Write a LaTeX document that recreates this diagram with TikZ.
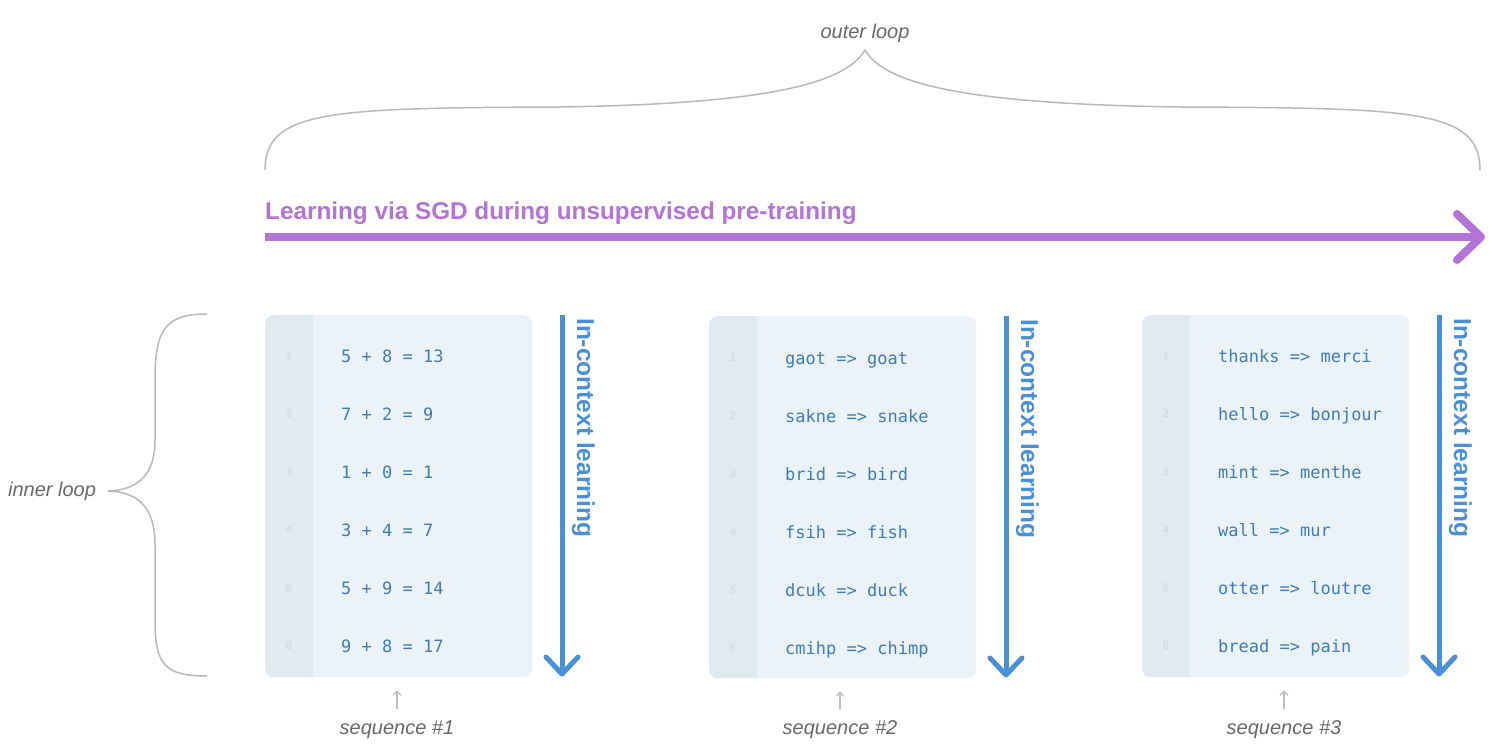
\documentclass[tikz,border=0pt]{standalone}
\usepackage{fontspec}
\setmainfont{Liberation Sans}
\newfontfamily\codefont{DejaVu Sans Mono}
\usetikzlibrary{arrows.meta}
\definecolor{boxfill}{RGB}{236,243,248}
\definecolor{gutterfill}{RGB}{224,234,241}
\definecolor{lnumc}{RGB}{204,215,224}
\definecolor{codec}{RGB}{62,125,184}
\definecolor{iclc}{RGB}{74,144,214}
\definecolor{sgdc}{RGB}{180,115,215}
\definecolor{labc}{RGB}{105,105,105}
\definecolor{bracec}{RGB}{185,185,185}
\definecolor{smallarrc}{RGB}{190,190,190}
\tikzset{
  panel/.style={fill=boxfill, rounded corners=9pt, minimum width=267pt, minimum height=362pt, inner sep=0pt, draw=none, anchor=north west},
  codetxt/.style={font=\codefont\fontsize{17}{20}\selectfont, text=codec, anchor=base west, inner sep=0pt},
  lnum/.style={font=\fontsize{11}{13}\selectfont, text=lnumc, inner sep=0pt},
  icl/.style={draw=iclc, line width=5pt},
  icltext/.style={font=\bfseries\fontsize{24.5}{28}\selectfont, text=iclc, rotate=-90, anchor=base west, inner sep=0pt},
  sgdline/.style={draw=sgdc, line width=8pt},
  sgdlab/.style={font=\bfseries\fontsize{24.3}{28}\selectfont, text=sgdc, anchor=base west, inner sep=0pt},
  looplab/.style={font=\itshape\fontsize{20}{24}\selectfont, text=labc, inner sep=0pt},
  bracepath/.style={draw=bracec, line width=1.5pt},
  smallarr/.style={draw=smallarrc, line width=1.2pt, -{Straight Barb[length=4pt,width=8pt]}},
}
\newcommand\seqpanel[5]{%
  \node[panel] (#1) at (#2,#3) {};
  \begin{scope}
    \clip[rounded corners=9pt] (#1.north west) rectangle (#1.south east);
    \fill[gutterfill] (#1.north west) rectangle ([xshift=48pt]#1.south west);
  \end{scope}
  \foreach \t [count=\i] in {#5} {
    \pgfmathsetmacro\yy{#4+58*(\i-1)}
    \node[lnum] (#1n\i) at (#2+24,\yy) {\i};
    \node[codetxt] (#1r\i) at (#2+76,\yy+6) {\t};
  }
  \coordinate (#1as) at (#2+297,#3);
  \coordinate (#1ae) at (#2+297,#3+359);
  \draw[icl] (#1as) -- (#1ae);
  \draw[icl, line cap=round, line join=round] (#1ae) ++(-16,-17) -- (#1ae) -- ++(16,-17);
  \node[icltext] (#1t) at (#2+312,#3+3) {In-context learning};
}
\begin{document}
\begin{tikzpicture}[x=1pt,y=-1pt]
\useasboundingbox (0,0) rectangle (1512,751);
\fill[white] (0,0) rectangle (1512,751);

% outer loop
\node[looplab] (outer) at (865,33) {outer loop};
\draw[bracepath] (265,170) .. controls (265,110) and (330,108) .. (560,107)
  .. controls (760,104) and (845,85) .. (865,50)
  .. controls (885,85) and (970,104) .. (1180,107)
  .. controls (1415,108) and (1480,110) .. (1480,170);

% SGD arrow
\node[sgdlab] (sgd) at (265,220) {Learning via SGD during unsupervised pre-training};
\coordinate (sgds) at (265,237);
\coordinate (sgde) at (1481,237);
\draw[sgdline] (sgds) -- (sgde);
\draw[sgdline, line cap=round, line join=round] (sgde) ++(-24,-23) -- (sgde) -- ++(-24,23);

% inner loop
\node[looplab] (inner) at (52,491) {inner loop};
\draw[bracepath] (207,314) .. controls (165,314) and (155,330) .. (155,380)
  -- (155,440) .. controls (155,475) and (138,490) .. (108,491)
  .. controls (138,492) and (155,507) .. (155,545)
  -- (155,620) .. controls (155,665) and (165,676) .. (207,676);

% panels
\seqpanel{pa}{265}{315}{356}{5 + 8 = 13, 7 + 2 = 9, 1 + 0 = 1, 3 + 4 = 7, 5 + 9 = 14, 9 + 8 = 17}
\seqpanel{pb}{709}{316}{358}{gaot => goat, sakne => snake, brid => bird, fsih => fish, dcuk => duck, cmihp => chimp}
\seqpanel{pc}{1142}{315}{356}{thanks => merci, hello => bonjour, mint => menthe, wall => mur, otter => loutre, bread => pain}

% sequence labels
\node[looplab] (s1) at (397,730) {sequence \#1};
\node[looplab] (s2) at (840,730) {sequence \#2};
\node[looplab] (s3) at (1284,730) {sequence \#3};
\draw[smallarr, shorten <=12pt, shorten >=13pt] (s1.north) -- (s1.north |- pa.south);
\draw[smallarr, shorten <=12pt, shorten >=13pt] (s2.north) -- (s2.north |- pb.south);
\draw[smallarr, shorten <=12pt, shorten >=13pt] (s3.north) -- (s3.north |- pc.south);
\end{tikzpicture}
\end{document}
